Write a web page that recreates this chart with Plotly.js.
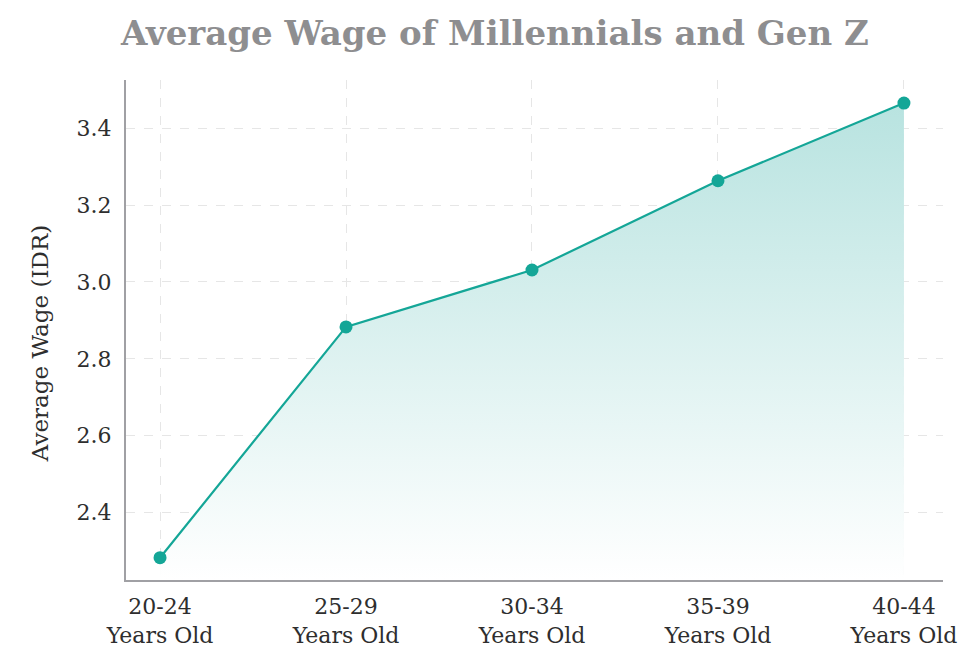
<!DOCTYPE html>
<html>
<head>
<meta charset="utf-8">
<script src="https://cdn.plot.ly/plotly-3.0.1.min.js"></script>
<style>
  html, body { margin: 0; padding: 0; background: #ffffff; }
  #chart { width: 959px; height: 655px; }
</style>
</head>
<body>
<div id="chart"></div>
<script>
const ageGroups = ["20-24<br>Years Old", "25-29<br>Years Old", "30-34<br>Years Old", "35-39<br>Years Old", "40-44<br>Years Old"];
const averageWage = [2.283, 2.883, 3.031, 3.263, 3.465];
const yTicks = [2.4, 2.6, 2.8, 3.0, 3.2, 3.4];

const teal = "#14a697";
const slab = "'DejaVu Serif', 'Liberation Serif', serif";

const wageTrace = {
  type: "scatter",
  mode: "lines+markers",
  x: ageGroups,
  y: averageWage,
  line: { color: teal, width: 2.2 },
  marker: { color: teal, size: 13 },
  fill: "tozeroy",
  fillgradient: {
    type: "vertical",
    start: 2.225,
    stop: 3.465,
    colorscale: [
      [0, "rgba(255,255,255,1)"],
      [1, "rgba(184,227,224,1)"]
    ]
  },
  hoverinfo: "x+y",
  showlegend: false
};

const layout = {
  width: 959,
  height: 655,
  margin: { l: 126, r: 16, t: 80, b: 75 },
  paper_bgcolor: "#ffffff",
  plot_bgcolor: "#ffffff",
  font: { family: slab, size: 22, color: "#2e2e2e" },
  title: {
    text: "<b>Average Wage of Millennials and Gen Z</b>",
    xref: "container",
    x: 0.516,
    xanchor: "center",
    y: 0.967,
    yanchor: "top",
    font: { family: slab, size: 34, color: "#8e8e90" }
  },
  xaxis: {
    type: "category",
    range: [-0.183, 4.21],
    showline: true,
    linecolor: "#a0a0a4",
    linewidth: 2,
    showgrid: true,
    gridcolor: "#e6e6e6",
    griddash: "dash",
    gridwidth: 1,
    zeroline: false,
    ticks: "",
    ticklabelstandoff: 6,
    tickfont: { family: slab, size: 22, color: "#2e2e2e" }
  },
  yaxis: {
    range: [2.225, 3.525],
    tickvals: yTicks,
    ticktext: yTicks.map((v) => v.toFixed(1)),
    showline: true,
    linecolor: "#a0a0a4",
    linewidth: 2,
    showgrid: true,
    gridcolor: "#e6e6e6",
    griddash: "dash",
    gridwidth: 1,
    zeroline: false,
    ticks: "",
    ticklabelstandoff: 8,
    tickfont: { family: slab, size: 22, color: "#2e2e2e" }
  },
  annotations: [
    {
      text: "Average Wage (IDR)",
      textangle: -90,
      xref: "paper",
      yref: "paper",
      x: -0.105,
      y: 0.472,
      xanchor: "center",
      yanchor: "middle",
      showarrow: false,
      font: { family: slab, size: 23, color: "#2e2e2e" }
    }
  ]
};

Plotly.newPlot("chart", [wageTrace], layout, { displayModeBar: false, responsive: false });
</script>
</body>
</html>
